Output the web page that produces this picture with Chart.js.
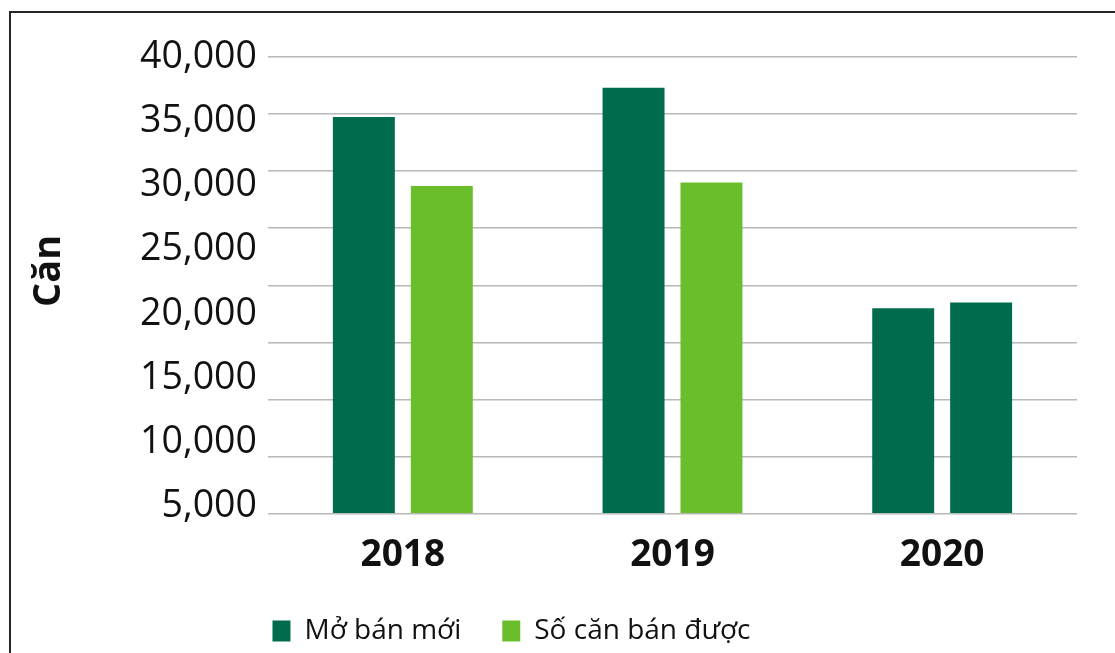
<!DOCTYPE html>
<html>
<head>
<meta charset="utf-8">
<script src="https://cdn.jsdelivr.net/npm/chart.js@4.4.1/dist/chart.umd.min.js"></script>
<style>
  html, body { margin: 0; padding: 0; background: #fff; overflow: hidden; }
  #frame {
    position: absolute; left: 9px; top: 11px; width: 1120px; height: 660px;
    border-top: 2.5px solid #262626; border-left: 2.5px solid #262626;
  }
  #chart { position: absolute; left: 0; top: 0; }
</style>
</head>
<body>
<div id="frame"></div>
<canvas id="chart" width="1115" height="653"></canvas>
<script>
const years = ['2018', '2019', '2020'];
const moBanMoi = [34750, 37300, 18000];
const soCanBanDuoc = [28700, 29000, 18500];
const tickValues = [5000, 10000, 15000, 20000, 25000, 30000, 35000, 40000];

const DARK = '#006b4d';
const LIGHT = '#6bbe2b';

document.addEventListener('DOMContentLoaded', function () {
    const ctx = document.getElementById('chart').getContext('2d');

    new Chart(ctx, {
        type: 'bar',
        data: {
            labels: years,
            datasets: [{
                label: 'Mở bán mới',
                data: moBanMoi,
                backgroundColor: DARK,
                yAxisID: 'y'
            }, {
                label: 'Số căn bán được',
                data: soCanBanDuoc,
                // the 2020 bar is dark in the source image
                backgroundColor: (c) => c.dataIndex === 2 ? DARK : LIGHT,
                yAxisID: 'y'
            }]
        },
        options: {
            responsive: false,
            animation: false,
            categoryPercentage: 0.578,
            barPercentage: 0.795,
            // negative left padding pulls the centred legend leftwards
            layout: { padding: { left: -54, right: 38, top: 57, bottom: -2 } },
            plugins: {
                tooltip: { enabled: false },
                legend: {
                    position: 'bottom',
                    labels: {
                        boxWidth: 18,
                        boxHeight: 21,
                        padding: 41,
                        color: '#111',
                        font: { family: 'Open Sans', size: 28 }
                    }
                }
            },
            scales: {
                x: {
                    grid: { display: false, tickLength: 22 },
                    border: { display: false },
                    ticks: {
                        color: '#111',
                        padding: 17,
                        font: { family: 'Open Sans', size: 37, weight: 'bold', lineHeight: 0.17 }
                    }
                },
                y: {
                    position: 'left',
                    min: 0,
                    max: 40000,
                    ticks: { display: false, stepSize: 5000 },
                    grid: { color: '#b8b8b8', lineWidth: 1.6, drawTicks: false },
                    border: { display: false },
                    afterFit: (axis) => { axis.width = 0; }
                },
                yLabels: {
                    position: 'left',
                    min: 4457,
                    max: 40000,
                    grid: { display: false },
                    border: { display: false },
                    afterBuildTicks: (axis) => {
                        axis.ticks = tickValues.map(v => ({ value: v }));
                    },
                    afterFit: (axis) => { axis.width = 322; },
                    ticks: {
                        color: '#111',
                        padding: 3,
                        font: { family: 'Open Sans', size: 37.5 },
                        callback: (v) => v.toLocaleString('en-US')
                    },
                    title: {
                        display: true,
                        // leading space nudges the title up a little, as in the source
                        text: '\u2002 Căn',
                        color: '#111',
                        padding: { top: 80 },
                        font: { family: 'Open Sans', size: 38, weight: 'bold' }
                    }
                }
            }
        }
    });
});
</script>
</body>
</html>
